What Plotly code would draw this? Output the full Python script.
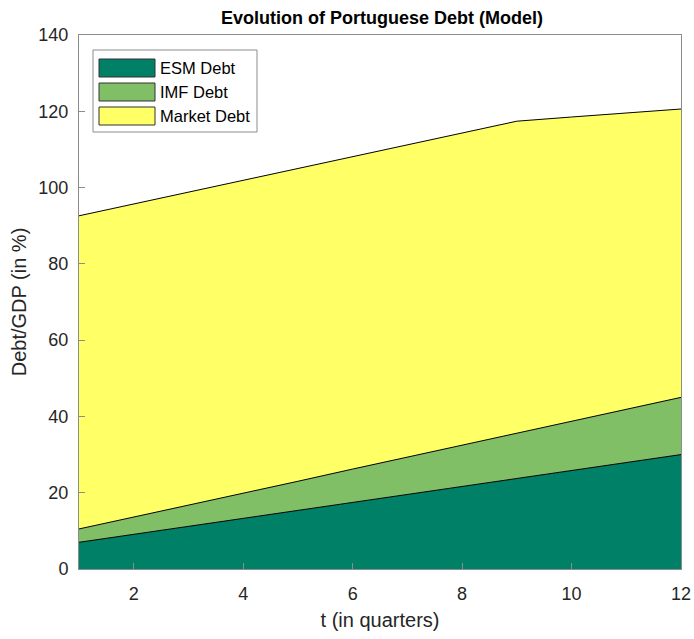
import plotly.graph_objects as go

quarters = [1, 2, 3, 4, 5, 6, 7, 8, 9, 10, 11, 12]
esm_debt = [7.0, 9.1, 11.2, 13.3, 15.4, 17.5, 19.6, 21.6, 23.7, 25.8, 27.9, 30.0]
imf_debt = [3.5, 4.5, 5.6, 6.6, 7.6, 8.7, 9.7, 10.9, 11.9, 12.9, 14.0, 15.0]
market_debt = [82.1, 82.1, 82.0, 82.0, 82.0, 81.9, 81.9, 81.8, 81.8, 79.8, 77.6, 75.6]

series_names = ["ESM Debt", "IMF Debt", "Market Debt"]
series_colors = ["rgb(0,128,102)", "rgb(128,191,102)", "rgb(255,255,102)"]
x_ticks = [2, 4, 6, 8, 10, 12]
y_ticks = [0, 20, 40, 60, 80, 100, 120, 140]

FONT = "Arial, Liberation Sans, sans-serif"
W, H = 694, 639
ML, MR, MT, MB = 79, 13, 35, 70
PW, PH = W - ML - MR, H - MT - MB

fig = go.Figure()
for name, vals, col in zip(series_names, [esm_debt, imf_debt, market_debt], series_colors):
    fig.add_trace(go.Scatter(
        x=quarters, y=vals, name=name, mode="lines",
        stackgroup="one", fillcolor=col,
        line=dict(color="black", width=1),
        showlegend=False,
    ))

axis_common = dict(
    showgrid=False, zeroline=False, showline=True, mirror=True,
    linecolor="#8c8c8c", linewidth=1, ticks="inside", ticklen=6,
    tickcolor="#8c8c8c", tickfont=dict(family=FONT, size=18, color="#262626"),
    ticklabeloverflow="allow", automargin=False,
)

# custom legend (MATLAB style) in paper coordinates
def px_x(px):
    return (px - ML) / PW

def px_y(py):
    return 1 - (py - MT) / PH

shapes = [dict(type="rect", xref="paper", yref="paper",
               x0=px_x(93), x1=px_x(257), y0=px_y(132), y1=px_y(50),
               fillcolor="white", line=dict(color="#8c8c8c", width=1), layer="above")]
annotations = []
row_centers = [68, 92, 116]
for name, col, cy in zip(series_names, series_colors, row_centers):
    shapes.append(dict(type="rect", xref="paper", yref="paper",
                       x0=px_x(99), x1=px_x(155), y0=px_y(cy + 9), y1=px_y(cy - 9),
                       fillcolor=col, line=dict(color="#333333", width=1), layer="above"))
    annotations.append(dict(xref="paper", yref="paper", x=px_x(158), y=px_y(cy),
                            xanchor="left", yanchor="middle", showarrow=False,
                            text=name, font=dict(family=FONT, size=16.5, color="black")))

fig.update_layout(
    width=W, height=H,
    margin=dict(l=ML, r=MR, t=MT, b=MB, autoexpand=False),
    paper_bgcolor="white", plot_bgcolor="white",
    title=dict(text="<b>Evolution of Portuguese Debt (Model)</b>", x=382 / W, xanchor="center",
               y=1 - 18 / H, yanchor="middle", xref="container",
               font=dict(family=FONT, size=18, color="black")),
    xaxis=dict(range=[1, 12], tickvals=x_ticks, ticklabelstandoff=8,
               title=dict(text="t (in quarters)", font=dict(family=FONT, size=20, color="#262626"), standoff=10),
               **axis_common),
    yaxis=dict(range=[0, 140], tickvals=y_ticks, ticklabelstandoff=6,
               title=dict(text="Debt/GDP (in %)", font=dict(family=FONT, size=20, color="#262626"), standoff=6),
               **axis_common),
    shapes=shapes,
    annotations=annotations,
    showlegend=False,
)

fig.write_html(
    "out.html",
    config={"displayModeBar": False},
    post_script="document.body.style.margin='0';",
)
